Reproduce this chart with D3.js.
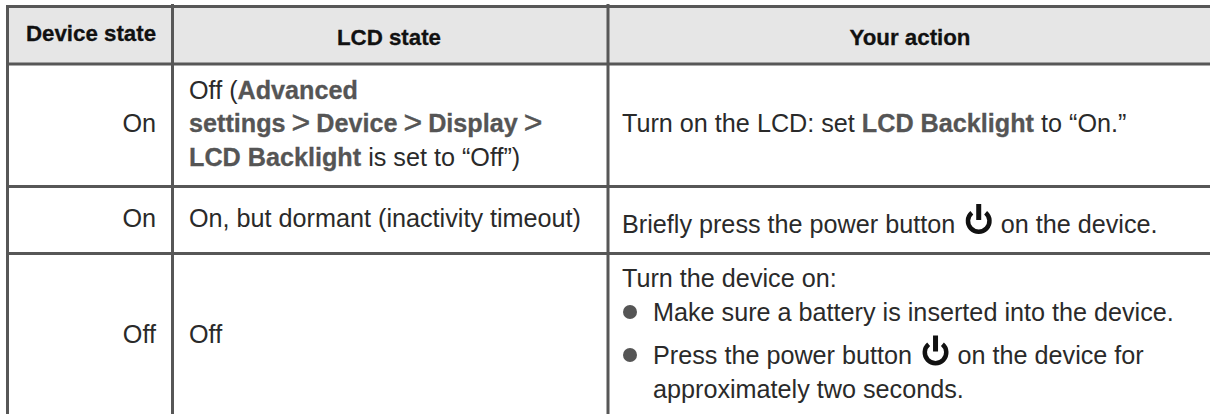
<!DOCTYPE html>
<html>
<head>
<meta charset="utf-8">
<script src="https://cdn.jsdelivr.net/npm/d3@7"></script>
<style>
  html, body { margin: 0; padding: 0; background: #fff; }
  svg { display: block; }
  text { font-family: "Liberation Sans", Arial, sans-serif; }
</style>
</head>
<body>
<div id="chart"></div>
<script>
// table content: **x** marks bold runs, {power} the power button icon
const headers = ["Device state", "LCD state", "Your action"];
const deviceStates = ["On", "On", "Off"];
const lcdStates = [
  ["Off (**Advanced**", "**settings > Device > Display >**", "**LCD Backlight** is set to “Off”)"],
  ["On, but dormant (inactivity timeout)"],
  ["Off"]
];
const actions = [
  ["Turn on the LCD: set **LCD Backlight** to “On.”"],
  ["Briefly press the power button {power} on the device."],
  ["Turn the device on:", "* Make sure a battery is inserted into the device.", "* Press the power button {power} on the device for", "  approximately two seconds."]
];

const width = 1210, height = 414;
const lineColor = "#575757", textColor = "#2a2a2a", boldColor = "#555";
const fontSize = 25.2;

const colEdges = [7.5, 172.5, 608, 1212];
const rowEdges = [6.5, 64, 186.5, 253.5, 416];

// baselines per cell
const headerY = [41, 45, 45];
const deviceY = [132, 227, 343];
const lcdY = [[99, 132, 166], [227], [343]];
const actionY = [[132], [232.5], [287, 321, 364, 398]];

const svg = d3.select("#chart").append("svg")
  .attr("width", width)
  .attr("height", height);

// header band
svg.append("rect")
  .attr("x", colEdges[0]).attr("y", rowEdges[0])
  .attr("width", width - colEdges[0]).attr("height", rowEdges[1] - rowEdges[0])
  .attr("fill", "#e6e6e6");

// horizontal rules
svg.selectAll("line.row").data(rowEdges.slice(0, 4)).join("line")
  .attr("class", "row")
  .attr("x1", colEdges[0] - 1.5).attr("x2", width)
  .attr("y1", d => d).attr("y2", d => d)
  .attr("stroke", lineColor).attr("stroke-width", 3);

// vertical rules, the inner ones poke above the top rule
svg.selectAll("line.col").data(colEdges.slice(0, 3)).join("line")
  .attr("class", "col")
  .attr("x1", d => d).attr("x2", d => d)
  .attr("y1", (d, i) => i == 0 ? rowEdges[0] : 4).attr("y2", height)
  .attr("stroke", lineColor).attr("stroke-width", 3);

function drawPower(x, baseline) {
  const g = svg.append("g").attr("transform", "translate(" + x + "," + (baseline - 11.5) + ")");
  const a = Math.PI / 4.5;
  const arc = d3.arc().innerRadius(8.5).outerRadius(13)
    .startAngle(a).endAngle(2 * Math.PI - a);
  g.append("path").attr("d", arc()).attr("fill", "#111");
  g.append("rect").attr("x", -2.5).attr("y", -17).attr("width", 5).attr("height", 16).attr("fill", "#111");
  return 26;
}

function addText(str, x, y, size, bold) {
  const t = svg.append("text")
    .attr("x", x).attr("y", y)
    .attr("font-size", size)
    .style("white-space", "pre")
    .attr("font-weight", bold ? "bold" : "normal")
    .attr("fill", bold ? boldColor : textColor)
    .text(str);
  if (bold) t.attr("stroke", boldColor).attr("stroke-width", 0.3);
  return t.node().getComputedTextLength();
}

// the > separators are set larger and lighter than the bold words around them
function addSeparator(x, y) {
  const t = svg.append("text")
    .attr("x", x - 1).attr("y", y + 1)
    .attr("font-size", 32)
    .attr("fill", boldColor)
    .attr("stroke", boldColor).attr("stroke-width", 0.5)
    .text(">");
  return t.node().getComputedTextLength() - 2;
}

// writes one line of rich text left to right, returns end x
function drawRuns(str, x, y) {
  let cx = x;
  str.split("{power}").forEach((part, i) => {
    if (i > 0) {
      cx += 3.5;
      cx += drawPower(cx + 13, y);
      cx += 2;
    }
    part.split("**").forEach((run, j) => {
      if (!run.length) return;
      if (j % 2) {
        run.split(/(>)/).forEach(piece => {
          if (!piece.length) return;
          cx += piece == ">" ? addSeparator(cx, y) : addText(piece, cx, y, fontSize, true);
        });
      } else {
        cx += addText(run, cx, y, fontSize, false);
      }
    });
  });
  return cx;
}

headers.forEach((h, i) => {
  svg.append("text")
    .attr("x", [91, 389, 910][i]).attr("y", headerY[i])
    .attr("text-anchor", "middle")
    .attr("font-size", 22.3).attr("font-weight", "bold")
    .attr("fill", "#111")
    .attr("stroke", "#111").attr("stroke-width", 0.3)
    .text(h);
});

deviceStates.forEach((d, i) => {
  svg.append("text")
    .attr("x", 156).attr("y", deviceY[i])
    .attr("text-anchor", "end")
    .attr("font-size", fontSize)
    .attr("fill", textColor)
    .text(d);
});

lcdStates.forEach((lines, r) => {
  lines.forEach((l, k) => drawRuns(l, 189, lcdY[r][k]));
});

actions.forEach((lines, r) => {
  lines.forEach((l, k) => {
    const y = actionY[r][k];
    if (l.startsWith("* ")) {
      svg.append("circle").attr("cx", 630).attr("cy", y - 9).attr("r", 7).attr("fill", boldColor);
      drawRuns(l.slice(2), 653, y);
    } else if (l.startsWith("  ")) {
      drawRuns(l.slice(2), 653, y);
    } else {
      drawRuns(l, 622, y);
    }
  });
});
</script>
</body>
</html>
